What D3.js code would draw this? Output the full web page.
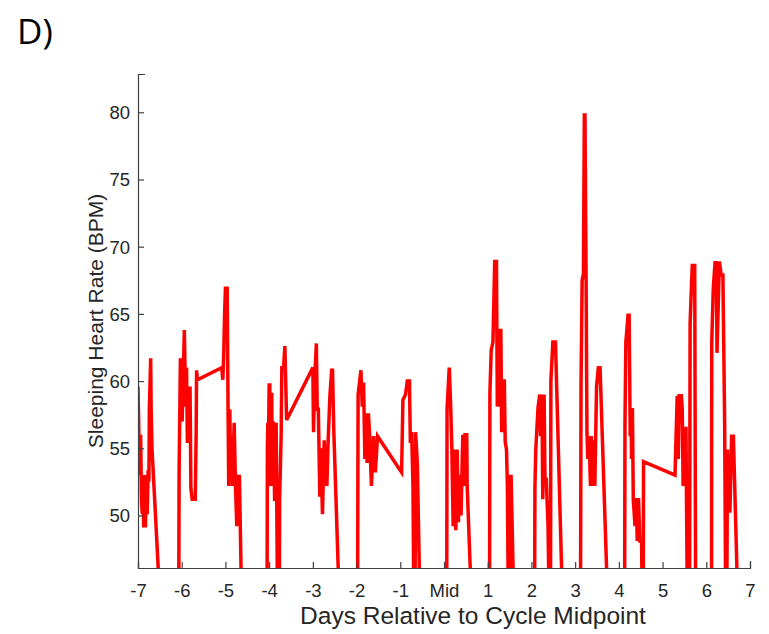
<!DOCTYPE html>
<html>
<head>
<meta charset="utf-8">
<script src="https://cdn.jsdelivr.net/npm/d3@7"></script>
<style>
  html, body { margin: 0; padding: 0; background: #fff; }
  svg { display: block; }
</style>
</head>
<body>
<svg id="chart" width="769" height="634"></svg>
<script>
// ---- data (40 = reading below the visible range) ----
const days = [
  -7.00,-6.98,-6.96,-6.94,-6.92,-6.90,-6.89,-6.87,-6.85,-6.83,-6.81,-6.79,-6.77,-6.75,-6.74,-6.71,-6.70,-6.68,-6.44,
  -6.07,-6.06,-6.03,-6.01,-5.99,-5.94,-5.91,-5.89,-5.87,-5.85,-5.83,-5.81,-5.79,-5.76,-5.69,-5.67,-5.66,-5.64,
  -5.085,-5.06,-5.04,-5.02,-5.00,-4.96,-4.94,-4.925,-4.90,-4.88,-4.86,-4.84,-4.80,-4.77,-4.74,-4.72,-4.68,-4.61,
  -4.05,-4.04,-4.03,-4.02,-4.00,-3.985,-3.975,-3.96,-3.94,-3.93,-3.91,-3.89,-3.875,-3.86,-3.84,-3.80,-3.77,-3.76,-3.725,-3.71,-3.67,-3.64,-3.60,
  -3.00,-2.985,-2.96,-2.92,-2.90,-2.875,-2.84,-2.82,-2.78,-2.74,-2.71,-2.68,-2.65,-2.61,-2.57,-2.55,-2.52,-2.36,
  -1.98,-1.965,-1.90,-1.87,-1.84,-1.81,-1.78,-1.76,-1.73,-1.70,-1.66,-1.61,-1.57,-1.52,
  -0.97,-0.94,-0.88,-0.84,-0.79,-0.77,-0.74,-0.71,-0.68,-0.665,-0.65,-0.61,-0.53,
  0.06,0.07,0.12,0.15,0.18,0.21,0.24,0.27,0.30,0.33,0.36,0.39,0.43,0.46,0.48,0.52,0.53,0.67,
  1.04,1.05,1.08,1.12,1.16,1.20,1.22,1.25,1.27,1.30,1.32,1.34,1.38,1.40,1.43,1.45,1.48,1.495,1.51,1.535,1.62,
  2.07,2.08,2.10,2.15,2.19,2.21,2.24,2.26,2.29,2.31,2.34,2.38,2.42,2.435,2.445,2.47,2.49,2.55,2.74,
  3.12,3.135,3.16,3.19,3.21,3.225,3.25,3.27,3.29,3.32,3.35,3.37,3.40,3.42,3.45,3.49,3.53,3.57,3.78,
  4.13,4.14,4.16,4.21,4.235,4.26,4.28,4.29,4.31,4.33,4.37,4.40,4.42,4.45,4.48,4.52,4.545,4.555,4.565,
  5.285,5.30,5.335,5.36,5.38,5.43,5.45,5.47,5.50,5.52,5.535,5.545,5.575,5.615,5.63,5.66,5.68,5.735,5.76,
  6.12,6.125,6.16,6.20,6.23,6.245,6.30,6.34,6.38,6.395,6.42,6.45,6.465,6.485,6.54,6.58,6.62,6.75
];
const bpm = [
  59.6,56.0,53.0,56.0,51.0,50.1,53.0,49.1,53.0,49.1,52.0,50.1,53.0,52.9,58.0,61.7,58.0,55.0,40,
  40,53.2,61.7,58.1,57.0,63.8,58.1,61.0,55.4,59.6,55.5,59.6,52.0,51.2,51.2,56.0,60.8,60.1,
  61.0,60.1,61.8,64.9,66.9,66.9,58.0,52.2,57.9,52.7,55.9,52.2,56.9,52.2,49.2,52.9,52.9,40,
  40,55.0,56.9,53.7,59.7,59.7,52.2,59.0,59.0,52.2,57.0,55.0,51.2,51.2,56.9,40,40,51.2,56.0,61.0,61.0,62.6,57.1,
  61.0,56.2,60.0,62.8,57.9,57.9,51.4,55.0,50.1,55.6,53.0,52.2,55.6,58.9,60.8,60.8,56.2,40,
  40,59.0,60.8,58.1,59.9,54.2,57.6,53.9,57.6,55.9,52.2,55.9,53.2,55.9,
  53.2,58.6,59.0,60.0,60.0,55.4,56.2,52.2,40,40,56.2,53.9,40,
  40,57.9,61.0,58.4,54.9,49.2,54.9,48.9,54.9,49.5,53.0,50.0,56.0,52.2,56.0,56.0,52.2,40,
  40,59.1,62.3,62.9,68.9,68.9,58.1,63.9,58.1,63.9,56.2,60.0,60.0,55.5,54.9,52.2,40,40,52.9,52.9,40,
  40,52.1,54.9,58.0,59.0,55.9,59.0,51.2,59.0,52.7,52.7,49.2,40,40,60.0,61.6,62.9,62.9,40,
  40,59.9,67.5,68.0,79.8,79.8,68.0,56.2,54.2,55.9,52.2,55.9,52.2,55.6,52.2,59.6,61.0,61.0,40,
  40,56.9,62.9,64.9,64.9,55.9,58.0,54.2,58.0,51.2,49.2,51.3,48.1,51.3,48.1,48.1,40,40,54.0,
  53.0,54.9,58.9,54.2,58.9,58.9,57.9,52.2,56.6,52.2,56.6,52.2,40,40,64.3,67.0,68.6,68.6,40,
  40,62.9,66.9,68.8,68.8,62.1,68.9,67.9,67.9,63.8,56.9,40,40,54.9,50.2,55.9,55.9,40
];
const xTicks = [-7,-6,-5,-4,-3,-2,-1,0,1,2,3,4,5,6,7];
const xTickLabels = ["-7","-6","-5","-4","-3","-2","-1","Mid","1","2","3","4","5","6","7"];
const yTicks = [50,55,60,65,70,75,80];
const xDomain = [-7, 7];
const yDomain = [46.09, 82.85];
const panelLabel = "D)";
const xLabel = "Days Relative to Cycle Midpoint";
const yLabel = "Sleeping Heart Rate (BPM)";

// ---- layout ----
const L = 138, R = 750, T = 74, B = 568;
const svg = d3.select("#chart");
const x = d3.scaleLinear().domain(xDomain).range([L, R]);
const y = d3.scaleLinear().domain(yDomain).range([B, T]);
const FONT = "'Liberation Sans', Arial, Helvetica, sans-serif";
const AXIS = "#404040", TXT = "#262626";

svg.append("defs").append("clipPath").attr("id", "plotclip")
  .append("rect").attr("x", L).attr("y", T).attr("width", R - L).attr("height", B - T);

const pts = days.map((d, i) => [d, bpm[i]]);
const line = d3.line().x(d => x(d[0])).y(d => y(d[1]));
svg.append("path")
  .attr("clip-path", "url(#plotclip)")
  .attr("d", line(pts))
  .attr("fill", "none")
  .attr("stroke", "#ff0000")
  .attr("stroke-width", 3.5)
  .attr("stroke-linejoin", "miter");

// axes
const xAxis = d3.axisBottom(x).tickValues(xTicks)
  .tickFormat((d, i) => xTickLabels[i]).tickSizeInner(-6).tickSizeOuter(-7).tickPadding(16);
const gx = svg.append("g").attr("transform", `translate(0,${B})`).call(xAxis);
const yAxis = d3.axisLeft(y).tickValues(yTicks).tickFormat(d3.format("d"))
  .tickSizeInner(-6).tickSizeOuter(-7).tickPadding(8);
const gy = svg.append("g").attr("transform", `translate(${L},0)`).call(yAxis);

[gx, gy].forEach(g => {
  g.selectAll("path.domain").attr("stroke", AXIS).attr("stroke-width", 1.2);
  g.selectAll(".tick line").attr("stroke", AXIS).attr("stroke-width", 1.2);
  g.selectAll(".tick text").attr("fill", TXT).style("font-family", FONT).style("font-size", "18.5px");
});
gy.selectAll(".tick text").attr("dy", "0.35em");

// labels
svg.append("text").attr("x", 473).attr("y", 624)
  .attr("text-anchor", "middle").attr("fill", TXT)
  .style("font-family", FONT).style("font-size", "24.5px").text(xLabel);
svg.append("text").attr("transform", `translate(103,${(T + B) / 2}) rotate(-90)`)
  .attr("text-anchor", "middle").attr("fill", TXT)
  .style("font-family", FONT).style("font-size", "21px").text(yLabel);
svg.append("text").attr("x", 17).attr("y", 44)
  .attr("fill", "#000").style("font-family", "'Open Sans', 'Noto Sans', sans-serif")
  .style("font-size", "35px").text(panelLabel);
</script>
</body>
</html>
